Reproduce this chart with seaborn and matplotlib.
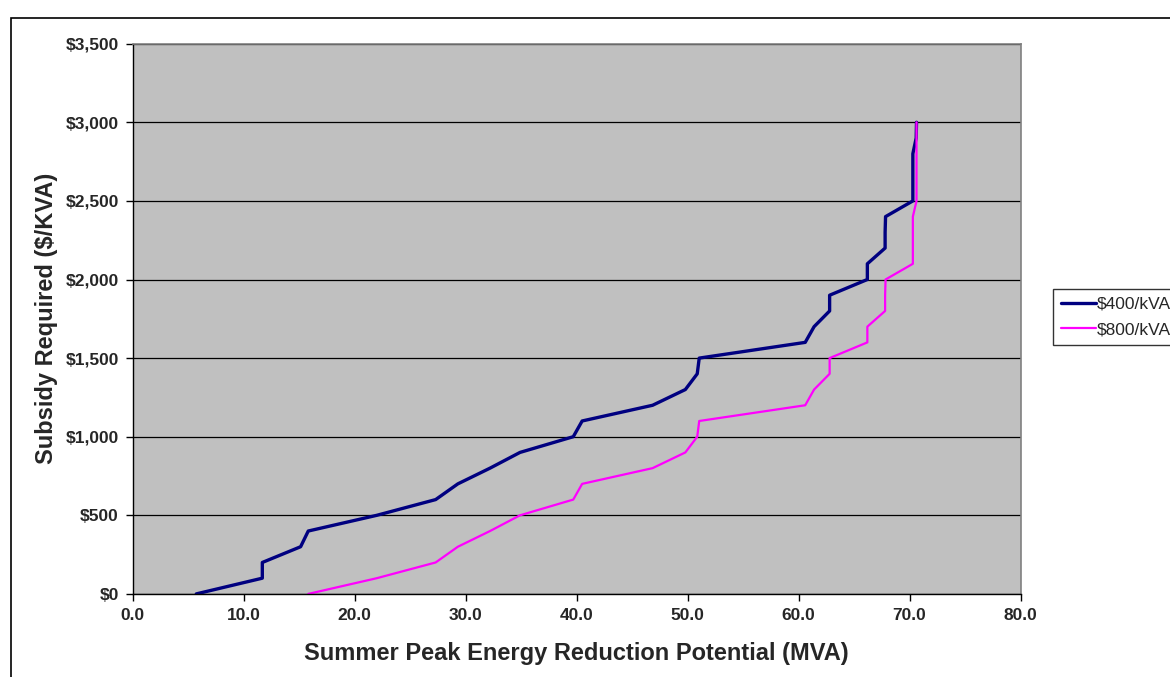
import numpy as np
import pandas as pd
import matplotlib
matplotlib.use("Agg")
import matplotlib.pyplot as plt
from matplotlib.patches import Rectangle
import seaborn as sns

# Subsidy levels ($/kVA) and cumulative summer peak reduction (MVA) for each cost case
subsidy = [0, 100, 200, 300, 400, 500, 600, 700, 800, 900,
           1000, 1100, 1200, 1300, 1400, 1500, 1600, 1700, 1800, 1900,
           2000, 2100, 2200, 2300, 2400, 2500, 2600, 2700, 2800, 2900, 3000]

mva_400 = [5.73, 11.68, 11.68, 15.13, 15.82, 22.0, 27.3, 29.3, 32.2, 34.9,
           39.7, 40.5, 46.85, 49.8, 50.87, 51.05, 60.6, 61.4, 62.8, 62.8,
           66.2, 66.2, 67.8, 67.8, 67.84, 70.3, 70.3, 70.3, 70.3, 70.6, 70.63]

mva_800 = [15.82, 22.0, 27.3, 29.3, 32.2, 34.9, 39.7, 40.5, 46.85, 49.8,
           50.87, 51.05, 60.6, 61.4, 62.8, 62.8, 66.2, 66.2, 67.8, 67.8,
           67.84, 70.3, 70.3, 70.3, 70.3, 70.63, 70.63, 70.63, 70.63, 70.63, 70.63]

series_names = ["$400/kVA", "$800/kVA"]
series_colors = ["#000080", "#FF00FF"]
series_widths = [2.4, 1.6]

df = pd.concat([
    pd.DataFrame({"mva": mva_400, "subsidy": subsidy, "case": series_names[0]}),
    pd.DataFrame({"mva": mva_800, "subsidy": subsidy, "case": series_names[1]}),
], ignore_index=True)

sns.set_theme(style="white")
plt.rcParams["font.family"] = ["Liberation Sans", "DejaVu Sans"]

fig = plt.figure(figsize=(11.7, 6.77), dpi=100)
ax = fig.add_axes([132.7 / 1170, 1 - 593.9 / 677, (1020.5 - 132.7) / 1170, (593.9 - 43.7) / 677])
ax.set_facecolor("#C0C0C0")

for name, color, lw in zip(series_names, series_colors, series_widths):
    sns.lineplot(data=df[df["case"] == name], x="mva", y="subsidy", sort=False,
                 color=color, linewidth=lw, label=name, ax=ax, estimator=None)

ax.set_xlim(0, 80)
ax.set_ylim(0, 3500)
ax.set_xticks(np.arange(0, 81, 10))
ax.set_yticks(np.arange(0, 3501, 500))
ax.set_xticklabels([f"{v:.1f}" for v in np.arange(0, 81, 10)])
ax.set_yticklabels([f"${v:,.0f}" for v in np.arange(0, 3501, 500)])
for lbl in ax.get_xticklabels() + ax.get_yticklabels():
    lbl.set_fontweight("bold")
    lbl.set_fontsize(12.5)

ax.grid(axis="y", color="black", linewidth=0.9)
ax.grid(axis="x", visible=False)
ax.set_axisbelow(True)

for side in ["top", "right"]:
    ax.spines[side].set_color("#808080")
    ax.spines[side].set_linewidth(1.2)
for side in ["left", "bottom"]:
    ax.spines[side].set_color("black")
    ax.spines[side].set_linewidth(1.0)

ax.tick_params(axis="both", which="major", direction="out", length=5, width=1,
               color="black", left=True, bottom=True, pad=5)

ax.set_xlabel("Summer Peak Energy Reduction Potential (MVA)", fontsize=17,
              fontweight="bold", labelpad=14)
ax.set_ylabel("Subsidy Required ($/KVA)", fontsize=17, fontweight="bold", labelpad=5)

leg = ax.legend(loc="upper left", bbox_to_anchor=(1053 / 1170, 1 - 289 / 677),
                bbox_transform=fig.transFigure, frameon=True, fancybox=False,
                fontsize=12.5, handlelength=2.0, handletextpad=0.05,
                borderpad=0.45, labelspacing=0.6, borderaxespad=0)
leg.get_frame().set_edgecolor("black")
leg.get_frame().set_linewidth(1.0)
leg.get_frame().set_facecolor("white")

# Outer chart border
fig.patches.append(Rectangle((11 / 1170, -0.05), 1.2, 1 - 18 / 677 + 0.05,
                             transform=fig.transFigure, fill=False,
                             edgecolor="black", linewidth=1.2))

fig.savefig("out.png", dpi=100)
